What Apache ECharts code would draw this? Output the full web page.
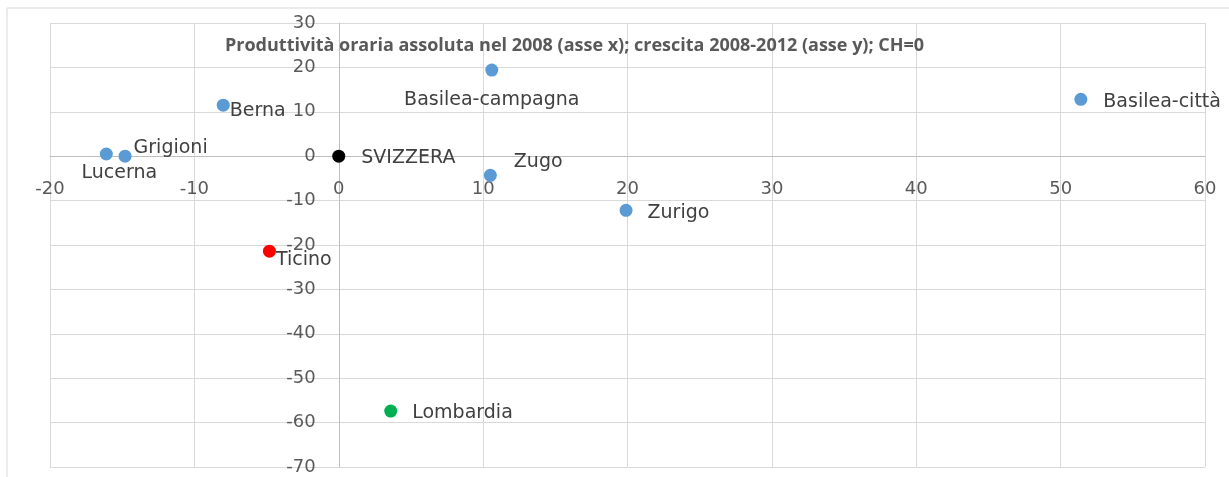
<!DOCTYPE html>
<html>
<head>
<meta charset="utf-8">
<script src="https://cdn.jsdelivr.net/npm/echarts@6/dist/echarts.min.js"></script>
<style>
  html, body { margin: 0; padding: 0; background: #fff; }
  #chart { width: 1229px; height: 477px; }
</style>
</head>
<body>
<div id="chart"></div>
<script>
// regioni: produttività 2008 (x) e crescita 2008-2012 (y), CH = 0
const names = ['Lucerna', 'Grigioni', 'Berna', 'SVIZZERA', 'Basilea-campagna', 'Zugo', 'Zurigo', 'Basilea-città', 'Ticino', 'Lombardia'];
const prodX = [-16.1, -14.8, -8.0, 0, 10.6, 10.5, 19.9, 51.4, -4.8, 3.6];
const growthY = [0.5, 0, 11.5, 0, 19.4, -4.3, -12.2, 12.8, -21.4, -57.4];

const xMin = -20, xMax = 60;
const yMin = -70, yMax = 30;

const title = 'Produttività oraria assoluta nel 2008 (asse x); crescita 2008-2012 (asse y); CH=0';

const chart = echarts.init(document.getElementById('chart'));

const font = '"Open Sans", "Noto Sans", sans-serif';
const labelFont = '"DejaVu Sans", "Open Sans", sans-serif';

// grid in pixel, per spostare gli assi sullo zero
const G = { left: 50, right: 24, top: 23, bottom: 10 };
const gw = 1229 - G.left - G.right;
const gh = 477 - G.top - G.bottom;
const yAxisShift = (0 - xMin) / (xMax - xMin) * gw;
const xAxisShift = (0 - yMin) / (yMax - yMin) * gh;

// colori e posizioni delle etichette
const colorOf = { SVIZZERA: '#000000', Ticino: '#ff0000', Lombardia: '#00b050' };
const labelOf = {
  'Lucerna': { position: 'bottom', distance: 2, offset: [13, 1] },
  'Grigioni': { position: 'right', distance: 2, offset: [0, -8] },
  'Berna': { position: 'right', distance: 0, offset: [0, 6] },
  'SVIZZERA': { position: 'right', distance: 16, offset: [0, 2] },
  'Basilea-campagna': { position: 'bottom', distance: 14 },
  'Zugo': { position: 'right', distance: 17, offset: [0, -13] },
  'Zurigo': { position: 'right', distance: 15, offset: [0, 3] },
  'Basilea-città': { position: 'right', distance: 16, offset: [0, 3] },
  'Ticino': { position: 'right', distance: 0, offset: [0, 9] },
  'Lombardia': { position: 'right', distance: 15, offset: [0, 2] }
};

const points = names.map((name, i) => ({
  name,
  value: [prodX[i], growthY[i]],
  itemStyle: { color: colorOf[name] || '#5b9bd5', opacity: 1 },
  label: Object.assign({ show: true, formatter: '{b}' }, labelOf[name])
}));

const gridLine = { show: true, lineStyle: { color: '#d9d9d9', width: 1 } };
const axisText = { color: '#595959', fontSize: 18, fontFamily: labelFont };

chart.setOption({
  animation: false,
  graphic: [{
    type: 'rect',
    shape: { x: 7, y: 8, width: 1240, height: 500 },
    style: { fill: 'none', stroke: '#d9d9d9', lineWidth: 1 },
    silent: true
  }],
  title: {
    text: title,
    left: 220,
    top: 32,
    textStyle: { color: '#595959', fontSize: 18, fontWeight: 'bold', fontFamily: font }
  },
  grid: { left: G.left, right: G.right, top: G.top, bottom: G.bottom, containLabel: false },
  xAxis: {
    type: 'value',
    min: xMin, max: xMax, interval: 10,
    position: 'bottom',
    offset: -xAxisShift,
    axisLine: { onZero: false, lineStyle: { color: '#bfbfbf' } },
    axisTick: { show: false },
    axisLabel: Object.assign({ margin: 24 }, axisText),
    splitLine: gridLine
  },
  yAxis: {
    type: 'value',
    min: yMin, max: yMax, interval: 10,
    position: 'left',
    offset: -yAxisShift,
    axisLine: { onZero: false, lineStyle: { color: '#bfbfbf' } },
    axisTick: { show: false },
    axisLabel: Object.assign({ margin: 23 }, axisText),
    splitLine: gridLine
  },
  series: [{
    type: 'scatter',
    symbolSize: 13,
    label: { color: '#404040', fontSize: 19, fontFamily: labelFont },
    data: points,
    z: 5
  }]
});
</script>
</body>
</html>
